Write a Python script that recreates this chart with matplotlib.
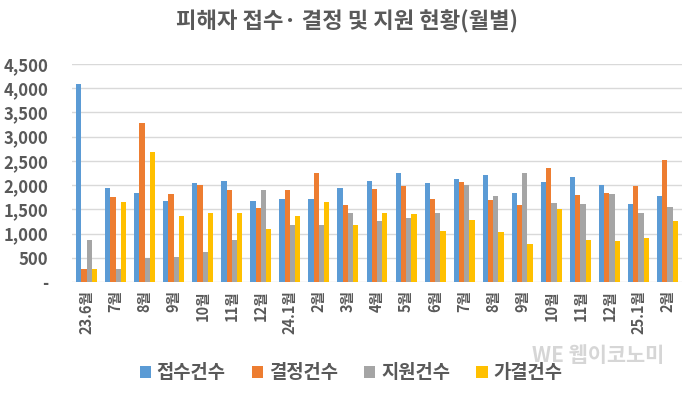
import numpy as np
import matplotlib.pyplot as plt
from matplotlib.ticker import FuncFormatter

plt.rcParams['font.family'] = ['Noto Sans CJK KR', 'DejaVu Sans']

months = ['23.6월', '7월', '8월', '9월', '10월', '11월', '12월', '24.1월', '2월', '3월', '4월',
          '5월', '6월', '7월', '8월', '9월', '10월', '11월', '12월', '25.1월', '2월']
received = [4090, 1940, 1835, 1675, 2035, 2095, 1675, 1705, 1705, 1940, 2095,
            2260, 2035, 2130, 2200, 1840, 2060, 2165, 2000, 1615, 1780]
decided = [270, 1745, 3290, 1815, 2000, 1905, 1525, 1905, 2260, 1585, 1910,
           1985, 1710, 2060, 1685, 1585, 2355, 1805, 1840, 1980, 2515]
supported = [870, 270, 495, 515, 620, 870, 1905, 1170, 1170, 1420, 1260,
             1320, 1420, 2000, 1780, 2260, 1640, 1615, 1815, 1420, 1545]
approved = [270, 1650, 2680, 1360, 1430, 1430, 1100, 1360, 1650, 1170, 1420,
            1395, 1045, 1290, 1040, 775, 1500, 870, 840, 905, 1255]

series = [('접수건수', received, '#5B9BD5'),
          ('결정건수', decided, '#ED7D31'),
          ('지원건수', supported, '#A5A5A5'),
          ('가결건수', approved, '#FFC000')]

fig = plt.figure(figsize=(6.95, 3.96), dpi=100)
ax = fig.add_axes([72 / 695, 1 - 282 / 396, 610 / 695, 218 / 396])

x = np.arange(len(months))
w = 0.18
for i, (name, vals, col) in enumerate(series):
    ax.bar(x + (i - 1.5) * w, vals, width=w, color=col, label=name, zorder=3)

ax.set_ylim(0, 4500)
ax.set_xlim(-0.5, len(months) - 0.5)
ax.set_yticks(range(0, 4501, 500))
ax.yaxis.set_major_formatter(FuncFormatter(lambda v, p: '-' if v == 0 else f'{int(v):,}'))
ax.grid(axis='y', color='#D9D9D9', linewidth=1, zorder=0)
for s in ax.spines.values():
    s.set_visible(False)
ax.tick_params(length=0)
ax.tick_params(axis='y', pad=17, labelsize=12, labelcolor='#595959')
ax.tick_params(axis='x', pad=6)
ax.set_xticks(x)
ax.set_xticklabels(months, rotation=90, fontsize=10.5, color='#595959', fontweight='bold', va='top')
for t in ax.get_yticklabels():
    t.set_fontweight('bold')

fig.suptitle('피해자 접수· 결정 및 지원 현황(월별)', x=0.5, y=0.975, fontsize=16,
             color='#595959', fontweight='bold')

leg = fig.legend(loc='center', bbox_to_anchor=(351 / 695, 1 - 373 / 396),
                 ncol=4, frameon=False, handlelength=0.6, handleheight=0.6,
                 handletextpad=0.3, columnspacing=1.4, fontsize=13.5)
for t in leg.get_texts():
    t.set_color('#595959')
    t.set_fontweight('bold')

fig.text(0.86, 1 - 355 / 396, 'WE 웹이코노미', fontsize=15, color='#BBBBBB', alpha=0.6,
         fontweight='bold', ha='center', va='center')

fig.savefig('out.png', dpi=100)
